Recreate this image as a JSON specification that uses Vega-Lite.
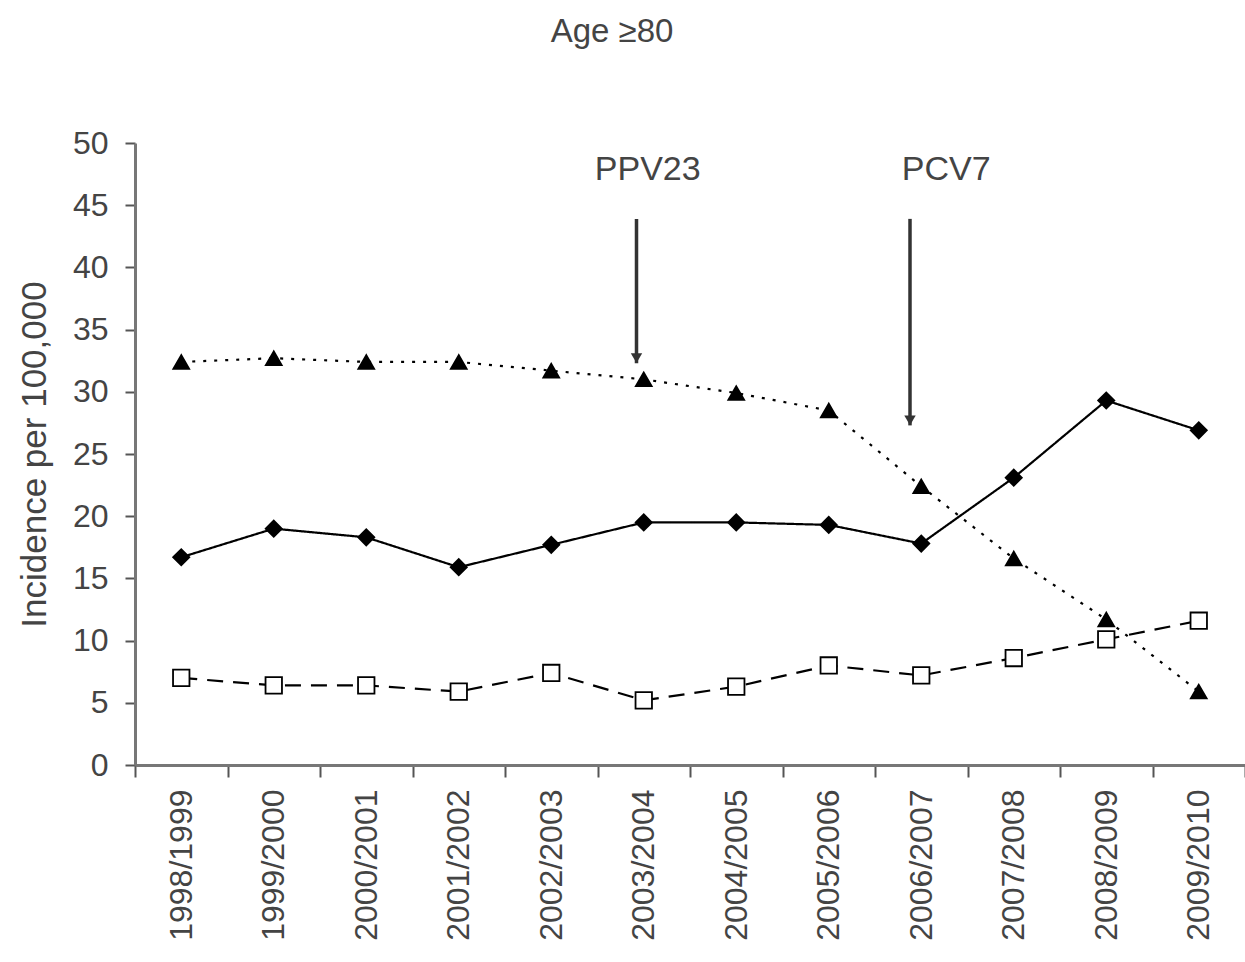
{
  "$schema": "https://vega.github.io/schema/vega-lite/v6.json",
  "autosize": "none",
  "width": 1110,
  "height": 622,
  "padding": {"left": 135, "top": 143, "right": 0, "bottom": 197},
  "background": "white",
  "title": {"text": "Age ≥80", "font": "Liberation Sans", "fontSize": 33, "fontWeight": "normal", "color": "#444", "offset": 78, "dx": -78, "anchor": "middle"},
  "config": {"view": {"stroke": null}, "font": "Liberation Sans"},
  "datasets": {
    "series": [
      {"season": "1998/1999", "series": "triangle", "value": 32.4},
      {"season": "1999/2000", "series": "triangle", "value": 32.7},
      {"season": "2000/2001", "series": "triangle", "value": 32.4},
      {"season": "2001/2002", "series": "triangle", "value": 32.4},
      {"season": "2002/2003", "series": "triangle", "value": 31.7},
      {"season": "2003/2004", "series": "triangle", "value": 31.0},
      {"season": "2004/2005", "series": "triangle", "value": 29.9},
      {"season": "2005/2006", "series": "triangle", "value": 28.5},
      {"season": "2006/2007", "series": "triangle", "value": 22.4},
      {"season": "2007/2008", "series": "triangle", "value": 16.6},
      {"season": "2008/2009", "series": "triangle", "value": 11.7},
      {"season": "2009/2010", "series": "triangle", "value": 5.9},
      {"season": "1998/1999", "series": "diamond", "value": 16.7},
      {"season": "1999/2000", "series": "diamond", "value": 19.0},
      {"season": "2000/2001", "series": "diamond", "value": 18.3},
      {"season": "2001/2002", "series": "diamond", "value": 15.9},
      {"season": "2002/2003", "series": "diamond", "value": 17.7},
      {"season": "2003/2004", "series": "diamond", "value": 19.5},
      {"season": "2004/2005", "series": "diamond", "value": 19.5},
      {"season": "2005/2006", "series": "diamond", "value": 19.3},
      {"season": "2006/2007", "series": "diamond", "value": 17.8},
      {"season": "2007/2008", "series": "diamond", "value": 23.1},
      {"season": "2008/2009", "series": "diamond", "value": 29.3},
      {"season": "2009/2010", "series": "diamond", "value": 26.9},
      {"season": "1998/1999", "series": "square", "value": 7.0},
      {"season": "1999/2000", "series": "square", "value": 6.4},
      {"season": "2000/2001", "series": "square", "value": 6.4},
      {"season": "2001/2002", "series": "square", "value": 5.9},
      {"season": "2002/2003", "series": "square", "value": 7.4},
      {"season": "2003/2004", "series": "square", "value": 5.2},
      {"season": "2004/2005", "series": "square", "value": 6.3},
      {"season": "2005/2006", "series": "square", "value": 8.0},
      {"season": "2006/2007", "series": "square", "value": 7.2},
      {"season": "2007/2008", "series": "square", "value": 8.6},
      {"season": "2008/2009", "series": "square", "value": 10.1},
      {"season": "2009/2010", "series": "square", "value": 11.6}
    ],
    "arrows": [
      {"season": "2003/2004", "label": "PPV23", "top": 43.9, "bottom": 32.3, "labelY": 47.8},
      {"season": "2006/2007", "label": "PCV7", "top": 43.9, "bottom": 27.3, "labelY": 47.8}
    ]
  },
  "encoding": {
    "x": {
      "field": "season", "type": "ordinal",
      "scale": {"type": "band", "paddingInner": 0, "paddingOuter": 0},
      "axis": {
        "title": null, "labelAngle": -90, "labelAlign": "right", "labelBaseline": "middle",
        "labelFontSize": 32, "labelColor": "#444", "labelPadding": 12,
        "tickBand": "extent", "tickSize": 12, "tickColor": "#555", "tickWidth": 2,
        "domainColor": "#777", "domainWidth": 3, "grid": false
      }
    }
  },
  "layer": [
    {
      "data": {"name": "series"},
      "mark": {"type": "line", "color": "black", "strokeWidth": 2.2},
      "encoding": {
        "y": {
          "field": "value", "type": "quantitative",
          "scale": {"domain": [0, 50], "nice": false},
          "axis": {
            "title": "Incidence per 100,000", "titleFontSize": 35, "titleFontWeight": "normal", "titleColor": "#444", "titlePadding": 20,
            "values": [0, 5, 10, 15, 20, 25, 30, 35, 40, 45, 50],
            "labelFontSize": 32, "labelColor": "#444", "labelPadding": 17,
            "tickSize": 10, "tickColor": "#555", "tickWidth": 2,
            "domainColor": "#777", "domainWidth": 3, "grid": false
          }
        },
        "detail": {"field": "series"},
        "strokeDash": {
          "field": "series", "type": "nominal", "legend": null,
          "scale": {"domain": ["triangle", "diamond", "square"], "range": [[3, 8], [1, 0], [16, 10]]}
        }
      }
    },
    {
      "data": {"name": "series"},
      "mark": {"type": "point", "stroke": "black", "strokeWidth": 1.8, "opacity": 1},
      "encoding": {
        "y": {"field": "value", "type": "quantitative"},
        "shape": {
          "field": "series", "type": "nominal", "legend": null,
          "scale": {"domain": ["triangle", "diamond", "square"], "range": ["triangle-up", "diamond", "square"]}
        },
        "fill": {
          "field": "series", "type": "nominal", "legend": null,
          "scale": {"domain": ["triangle", "diamond", "square"], "range": ["black", "black", "white"]}
        },
        "size": {
          "field": "series", "type": "nominal", "legend": null,
          "scale": {"domain": ["triangle", "diamond", "square"], "range": [250, 270, 150]}
        }
      }
    },
    {
      "data": {"name": "arrows"},
      "transform": [{"filter": "datum.label === 'PPV23'"}],
      "layer": [
        {
          "mark": {"type": "rule", "color": "#333", "strokeWidth": 3.5},
          "encoding": {
            "y": {"field": "top", "type": "quantitative"},
            "y2": {"field": "bottom"},
            "xOffset": {"value": 39}
          }
        },
        {
          "mark": {"type": "point", "shape": "triangle-down", "filled": true, "color": "#333", "size": 130, "opacity": 1, "yOffset": -5},
          "encoding": {
            "y": {"field": "bottom", "type": "quantitative"},
            "xOffset": {"value": 39}
          }
        },
        {
          "mark": {"type": "text", "fontSize": 34, "color": "#444", "font": "Liberation Sans", "dx": 4},
          "encoding": {
            "y": {"field": "labelY", "type": "quantitative"},
            "text": {"field": "label"}
          }
        }
      ]
    },
    {
      "data": {"name": "arrows"},
      "transform": [{"filter": "datum.label === 'PCV7'"}],
      "layer": [
        {
          "mark": {"type": "rule", "color": "#333", "strokeWidth": 3.5},
          "encoding": {
            "y": {"field": "top", "type": "quantitative"},
            "y2": {"field": "bottom"},
            "xOffset": {"value": 35}
          }
        },
        {
          "mark": {"type": "point", "shape": "triangle-down", "filled": true, "color": "#333", "size": 130, "opacity": 1, "yOffset": -5},
          "encoding": {
            "y": {"field": "bottom", "type": "quantitative"},
            "xOffset": {"value": 35}
          }
        },
        {
          "mark": {"type": "text", "fontSize": 34, "color": "#444", "font": "Liberation Sans", "dx": 25},
          "encoding": {
            "y": {"field": "labelY", "type": "quantitative"},
            "text": {"field": "label"}
          }
        }
      ]
    }
  ]
}
